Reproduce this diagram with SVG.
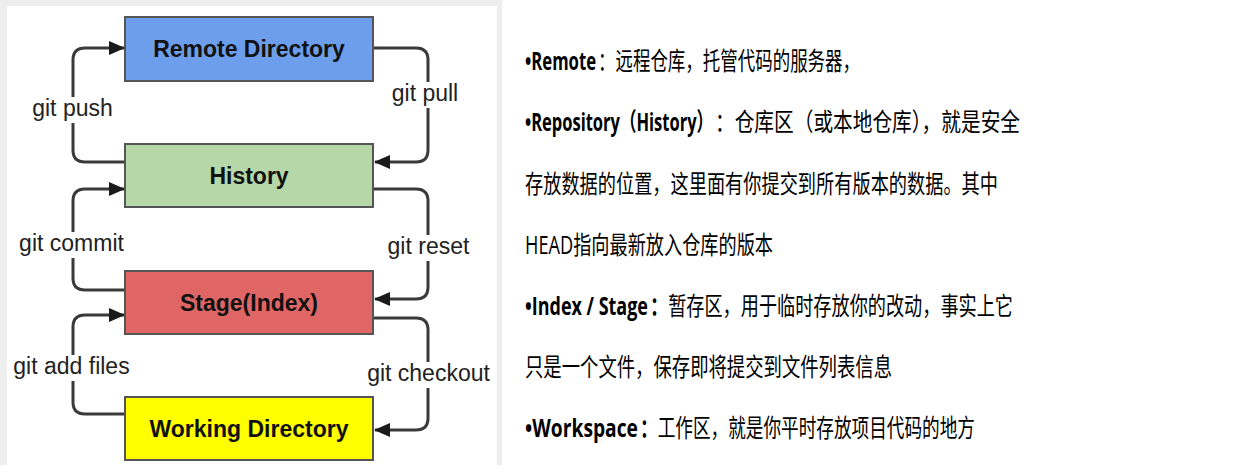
<svg xmlns="http://www.w3.org/2000/svg" width="1233" height="472" viewBox="0 0 1233 472">
<style>
.box{stroke:#555;stroke-width:2}
.nt{font-family:"Liberation Sans",Arial,sans-serif;font-weight:bold;font-size:23px;fill:#111;text-anchor:middle}
.lt{font-family:"Liberation Sans",Arial,sans-serif;font-size:23px;fill:#222;text-anchor:middle}
.lb{fill:#fff}
.cn{fill:none;stroke:#3a3a3a;stroke-width:3}
.rt{font-family:"Open Sans","Noto Sans CJK SC",sans-serif;font-size:25px;fill:#000}
.b{font-weight:bold}
</style>
<defs>
<marker id="ah" markerWidth="16" markerHeight="14" refX="15" refY="7" orient="auto" markerUnits="userSpaceOnUse">
<path d="M0,0 L16,7 L0,14 Z" fill="#1a1a1a"/>
</marker>
</defs>
<rect x="0" y="0" width="502" height="465" fill="#eeeeee"/>
<rect x="7" y="6" width="490" height="459" fill="#ffffff"/>
<g id="connectors">
<path class="cn" d="M125,162 H85 Q73,162 73,150 V60 Q73,48 85,48 H124" marker-end="url(#ah)"/>
<path class="cn" d="M373,48 H416 Q428,48 428,60 V150 Q428,162 416,162 H375" marker-end="url(#ah)"/>
<path class="cn" d="M125,290 H85 Q73,290 73,278 V201 Q73,189 85,189 H124" marker-end="url(#ah)"/>
<path class="cn" d="M373,189 H416 Q428,189 428,201 V287 Q428,299 416,299 H375" marker-end="url(#ah)"/>
<path class="cn" d="M125,414 H85 Q73,414 73,402 V327 Q73,315 85,315 H124" marker-end="url(#ah)"/>
<path class="cn" d="M373,318 H416 Q428,318 428,330 V418 Q428,430 416,430 H375" marker-end="url(#ah)"/>
<rect class="lb" x="30" y="97" width="86" height="26"/>
<text class="lt" x="72.5" y="116">git push</text>
<rect class="lb" x="390" y="82" width="70" height="26"/>
<text class="lt" x="425" y="101">git pull</text>
<rect class="lb" x="16" y="232" width="112" height="26"/>
<text class="lt" x="71.5" y="251">git commit</text>
<rect class="lb" x="385" y="235" width="87" height="26"/>
<text class="lt" x="428.5" y="254">git reset</text>
<rect class="lb" x="11" y="355" width="121" height="26"/>
<text class="lt" x="71.5" y="374">git add files</text>
<rect class="lb" x="365" y="362" width="127" height="26"/>
<text class="lt" x="428.5" y="381">git checkout</text>
</g>
<g id="remote">
<rect class="box" x="125" y="17" width="248" height="64" fill="#6d9eeb"/>
<text class="nt" x="249" y="57">Remote Directory</text>
</g>
<g id="history">
<rect class="box" x="125" y="144" width="248" height="63" fill="#b6d7a8"/>
<text class="nt" x="249" y="184">History</text>
</g>
<g id="stage">
<rect class="box" x="125" y="271" width="248" height="63" fill="#e06666"/>
<text class="nt" x="249" y="311">Stage(Index)</text>
</g>
<g id="working">
<rect class="box" x="125" y="397" width="248" height="63" fill="#ffff00"/>
<text class="nt" x="249" y="437">Working Directory</text>
</g>
<g id="notes">
<text class="rt b" transform="translate(525,70) scale(0.672,1)" textLength="105.7" lengthAdjust="spacingAndGlyphs">•Remote</text>
<text class="rt" transform="translate(598,70) scale(0.70,1)" textLength="374.3" lengthAdjust="spacingAndGlyphs">：远程仓库，托管代码的服务器，</text>
<text class="rt b" transform="translate(525,131) scale(0.662,1)" textLength="284" lengthAdjust="spacingAndGlyphs">•Repository（History）</text>
<text class="rt" transform="translate(715,131) scale(0.758,1)" textLength="402.4" lengthAdjust="spacingAndGlyphs">：仓库区（或本地仓库），就是安全</text>
<text class="rt" transform="translate(525,193) scale(0.728,1)" textLength="649.7" lengthAdjust="spacingAndGlyphs">存放数据的位置，这里面有你提交到所有版本的数据。其中</text>
<text class="rt" transform="translate(525,254) scale(0.634,1)" textLength="391.2" lengthAdjust="spacingAndGlyphs">HEAD指向最新放入仓库的版本</text>
<text class="rt b" transform="translate(525,315) scale(0.72,1)" textLength="170.8" lengthAdjust="spacingAndGlyphs">•Index / Stage</text>
<text class="rt" transform="translate(650,315) scale(0.726,1)" textLength="500" lengthAdjust="spacingAndGlyphs"><tspan class="b">：</tspan>暂存区，用于临时存放你的改动，事实上它</text>
<text class="rt" transform="translate(525,376) scale(0.734,1)" textLength="500" lengthAdjust="spacingAndGlyphs">只是一个文件，保存即将提交到文件列表信息</text>
<text class="rt b" transform="translate(525,437) scale(0.768,1)" textLength="147.1" lengthAdjust="spacingAndGlyphs">•Workspace</text>
<text class="rt" transform="translate(640,437) scale(0.706,1)" textLength="474.5" lengthAdjust="spacingAndGlyphs"><tspan class="b">：</tspan>工作区，就是你平时存放项目代码的地方</text>
</g>
</svg>
